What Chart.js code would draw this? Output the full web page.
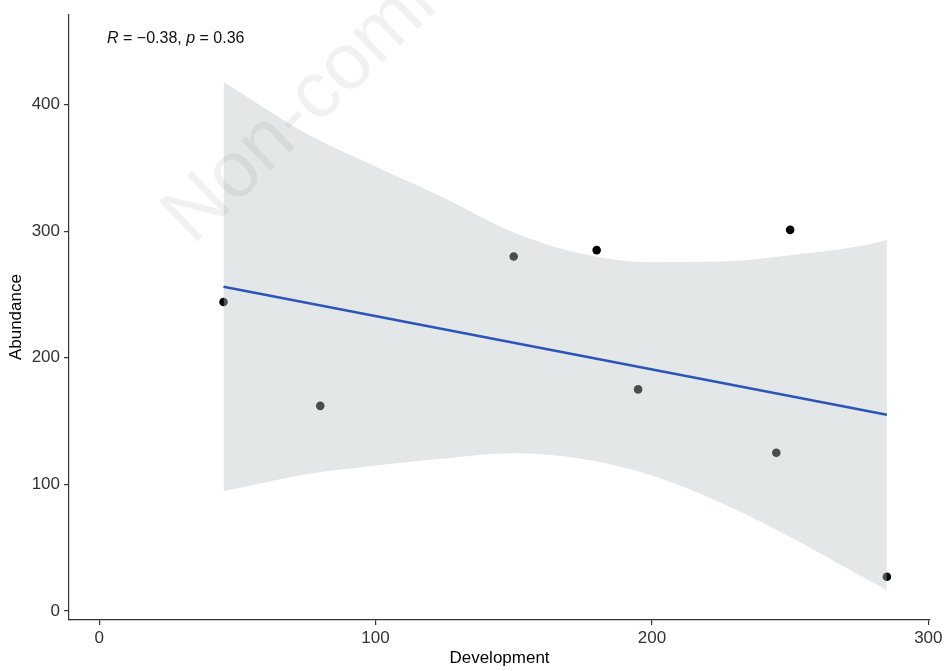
<!DOCTYPE html>
<html>
<head>
<meta charset="utf-8">
<title>Abundance vs Development</title>
<script src="https://cdn.jsdelivr.net/npm/chart.js@4/dist/chart.umd.min.js"></script>
<style>
  html, body { margin: 0; padding: 0; background: #fff; }
  #wrap { width: 947px; height: 671px; }
</style>
</head>
<body>
<div id="wrap"><canvas id="scatter"></canvas></div>
<script>
var devX = [45, 80, 150, 180, 195, 245, 250, 285];
var abundY = [244, 162, 280, 285, 175, 125, 301, 27];

// fitted regression line, ends of the range
var fitX = [45, 285];
var fitY = [256, 155];

// 95% confidence band, read at a few x positions
var bandX = [45, 75, 100, 125, 150, 175, 200, 225, 250, 275, 285];
var bandUpper = [418, 377, 351, 326, 299, 282, 275.5, 276, 281, 288, 293];
var bandLower = [94.5, 108, 115, 120.5, 124.5, 120, 107, 85.5, 58.5, 28.5, 16.5];

var xTicks = [0, 100, 200, 300];
var yTicks = [0, 100, 200, 300, 400];

var statLabel = { r: '-0.38', p: '0.36' };

var FONT = "'Liberation Sans', Arial, sans-serif";
var AXIS = '#333333';
var TICK_TEXT = '#333333';
var LINE_BLUE = '#2b55b8';
var BAND = 'rgba(188, 196, 198, 0.4)';

function pts(xs, ys) {
  return xs.map(function (x, i) { return { x: x, y: ys[i] }; });
}

function fixedTicks(values) {
  return function (scale) {
    scale.ticks = values.map(function (v) { return { value: v }; });
  };
}

// R = -0.38, p = 0.36 with italic R and p
var corLabel = {
  id: 'corLabel',
  afterDatasetsDraw: function (chart) {
    var ctx = chart.ctx;
    var parts = [
      ['italic', 'R'],
      ['normal', ' = \u2212' + statLabel.r.replace('-', '') + ', '],
      ['italic', 'p'],
      ['normal', ' = ' + statLabel.p]
    ];
    var x = 107;
    ctx.save();
    ctx.fillStyle = '#111';
    ctx.textBaseline = 'middle';
    ctx.textAlign = 'left';
    parts.forEach(function (p) {
      ctx.font = p[0] + ' 16px ' + FONT;
      ctx.fillText(p[1], x, 39);
      x += ctx.measureText(p[1]).width;
    });
    ctx.restore();
  }
};

// faint diagonal watermark over the whole picture
var watermark = {
  id: 'watermark',
  afterDraw: function (chart) {
    var ctx = chart.ctx;
    ctx.save();
    ctx.translate(193, 246);
    ctx.rotate(-44 * Math.PI / 180);
    ctx.font = '80px ' + FONT;
    ctx.fillStyle = 'rgba(0, 0, 0, 0.055)';
    ctx.textBaseline = 'alphabetic';
    ctx.fillText('Non-commercial use only', 0, 0);
    ctx.restore();
  }
};

var axisCommon = {
  grid: { display: true, drawOnChartArea: false, drawTicks: true, tickLength: 5, color: AXIS, tickColor: AXIS, lineWidth: 1.2 },
  border: { display: true, color: AXIS, width: 1.2 }
};

new Chart(document.getElementById('scatter'), {
  type: 'scatter',
  data: {
    datasets: [
      {
        type: 'line',
        label: 'fit',
        data: pts(fitX, fitY),
        borderColor: LINE_BLUE,
        borderWidth: 2.6,
        pointRadius: 0,
        fill: false,
        order: 0
      },
      {
        type: 'line',
        label: 'upper',
        data: pts(bandX, bandUpper),
        borderWidth: 0,
        borderColor: 'transparent',
        pointRadius: 0,
        tension: 0.4,
        cubicInterpolationMode: 'monotone',
        fill: false,
        order: 1
      },
      {
        type: 'line',
        label: 'lower',
        data: pts(bandX, bandLower),
        borderWidth: 0,
        borderColor: 'transparent',
        pointRadius: 0,
        tension: 0.4,
        cubicInterpolationMode: 'monotone',
        backgroundColor: BAND,
        fill: '-1',
        order: 1
      },
      {
        label: 'Abundance',
        data: pts(devX, abundY),
        backgroundColor: '#000',
        borderWidth: 0,
        pointRadius: 4.3,
        order: 2
      }
    ]
  },
  options: {
    responsive: true,
    maintainAspectRatio: false,
    animation: false,
    events: [],
    layout: { padding: { top: 11, right: 17, left: 0, bottom: 0 } },
    plugins: {
      legend: { display: false },
      tooltip: { enabled: false }
    },
    scales: {
      x: Object.assign({}, axisCommon, {
        type: 'linear',
        min: -10.9,
        max: 300.6,
        afterBuildTicks: fixedTicks(xTicks),
        afterFit: function (scale) { scale.height = 51; },
        ticks: { color: TICK_TEXT, font: { family: FONT, size: 17 }, padding: 3, maxRotation: 0 },
        title: { display: true, text: 'Development', color: '#000', font: { family: FONT, size: 17 }, padding: { top: 0, bottom: 2 } }
      }),
      y: Object.assign({}, axisCommon, {
        type: 'linear',
        min: -7.1,
        max: 471.3,
        afterBuildTicks: fixedTicks(yTicks),
        afterFit: function (scale) { scale.width = 69; },
        ticks: { color: TICK_TEXT, font: { family: FONT, size: 17 }, padding: 4 },
        title: { display: true, text: 'Abundance', color: '#000', font: { family: FONT, size: 17 }, padding: { top: 6, bottom: 0 } }
      })
    }
  },
  plugins: [corLabel, watermark]
});
</script>
</body>
</html>
